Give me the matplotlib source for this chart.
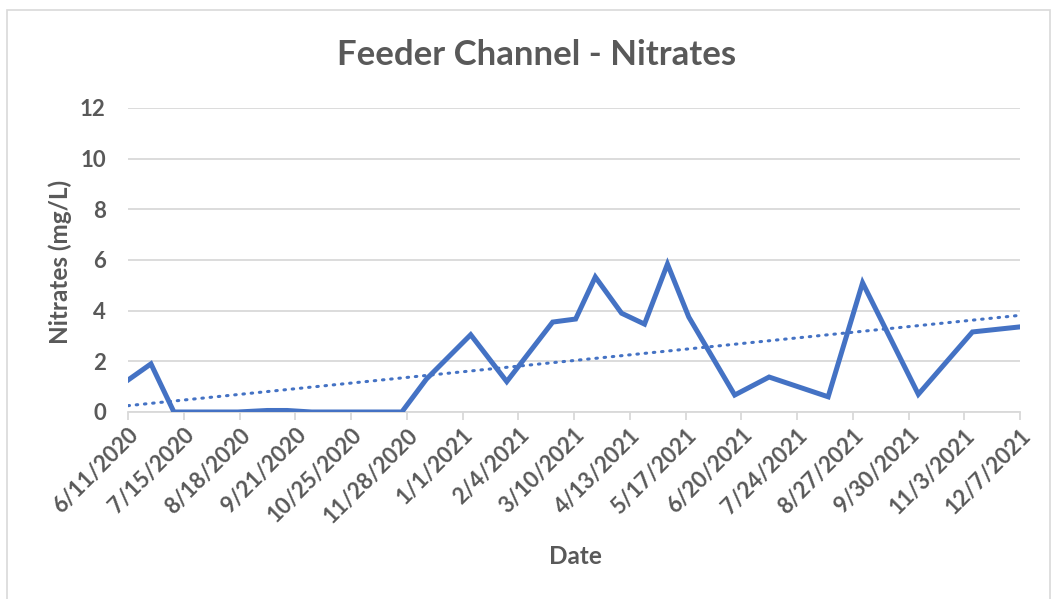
import numpy as np
import pandas as pd
import matplotlib
matplotlib.use("Agg")
import matplotlib.pyplot as plt
import matplotlib.dates as mdates
from matplotlib.patches import Rectangle

# sample dates and nitrate readings (mg/L)
# (the flat zero stretches hold a few extra zero samples)
dates = pd.to_datetime([
    "2020-06-11", "2020-06-25", "2020-07-09", "2020-07-23", "2020-08-04",
    "2020-08-17", "2020-09-04", "2020-09-16", "2020-10-01", "2020-10-15",
    "2020-10-29", "2020-11-12", "2020-11-25", "2020-12-10", "2021-01-06",
    "2021-01-28", "2021-02-25", "2021-03-11", "2021-03-23", "2021-04-08",
    "2021-04-22", "2021-05-06", "2021-05-19", "2021-06-16", "2021-07-07",
    "2021-08-12", "2021-09-02", "2021-10-06", "2021-11-08", "2021-12-07",
])
nitrates = [1.26, 1.9, 0.0, 0.0, 0.0, 0.0, 0.06, 0.06, 0.0, 0.0,
            0.0, 0.0, 0.0, 1.3, 3.05, 1.2, 3.55, 3.67, 5.33, 3.9,
            3.47, 5.84, 3.75, 0.67, 1.38, 0.6, 5.1, 0.7, 3.16, 3.36]
tick_dates = pd.date_range("2020-06-11", "2021-12-07", freq="34D")
y_ticks = [0, 2, 4, 6, 8, 10, 12]

blue = "#4472C4"
grey = "#595959"
grid = "#D9D9D9"
plt.rcParams["font.family"] = ["Lato", "DejaVu Sans"]

fig = plt.figure(figsize=(10.63, 5.99), dpi=100)
fig.patches.append(Rectangle((7 / 1063, -0.01), 1043 / 1063, 1 - 10 / 599 + 0.01,
                             transform=fig.transFigure, fill=False,
                             edgecolor=grid, lw=1.2))
ax = fig.add_axes([128 / 1063, 1 - 412 / 599, 892 / 1063, 304 / 599])

# linear trendline (like Excel's)
xnum = mdates.date2num(dates)
k, b = np.polyfit(xnum, nitrates, 1)
ax.plot(dates, k * xnum + b, color=blue, lw=2.2, linestyle=(0, (0.5, 2.2)),
        dash_capstyle="round", zorder=3)
ax.plot(dates, nitrates, color=blue, lw=3.6, solid_joinstyle="miter", zorder=4)

ax.set_xlim(dates[0], dates[-1])
ax.set_ylim(0, 12)
ax.set_yticks(y_ticks)
ax.set_xticks(tick_dates)
ax.set_xticklabels([f"{d.month}/{d.day}/{d.year}" for d in tick_dates],
                   rotation=45, ha="right", rotation_mode="anchor")
ax.grid(axis="y", color=grid, lw=1.3)
ax.set_axisbelow(True)
for s in ["top", "right", "left"]:
    ax.spines[s].set_visible(False)
ax.spines["bottom"].set_color(grid)
ax.spines["bottom"].set_linewidth(1.3)
ax.tick_params(axis="y", length=0, pad=16, labelsize=16, labelcolor=grey)
ax.tick_params(axis="x", length=6, width=1.3, color=grid, pad=3,
               labelsize=16, labelcolor=grey)
for lbl in ax.get_xticklabels() + ax.get_yticklabels():
    lbl.set_fontweight("bold")

fig.text(537 / 1063, 1 - 55 / 599, "Feeder Channel - Nitrates", ha="center",
         va="center", fontsize=25, fontweight="bold", color=grey)
fig.text(60 / 1063, 1 - 262 / 599, "Nitrates (mg/L)", ha="center", va="center",
         rotation=90, fontsize=17.5, fontweight="bold", color=grey)
fig.text(575 / 1063, 1 - 557 / 599, "Date", ha="center", va="center",
         fontsize=17.5, fontweight="bold", color=grey)

fig.savefig("out.png", dpi=100)
